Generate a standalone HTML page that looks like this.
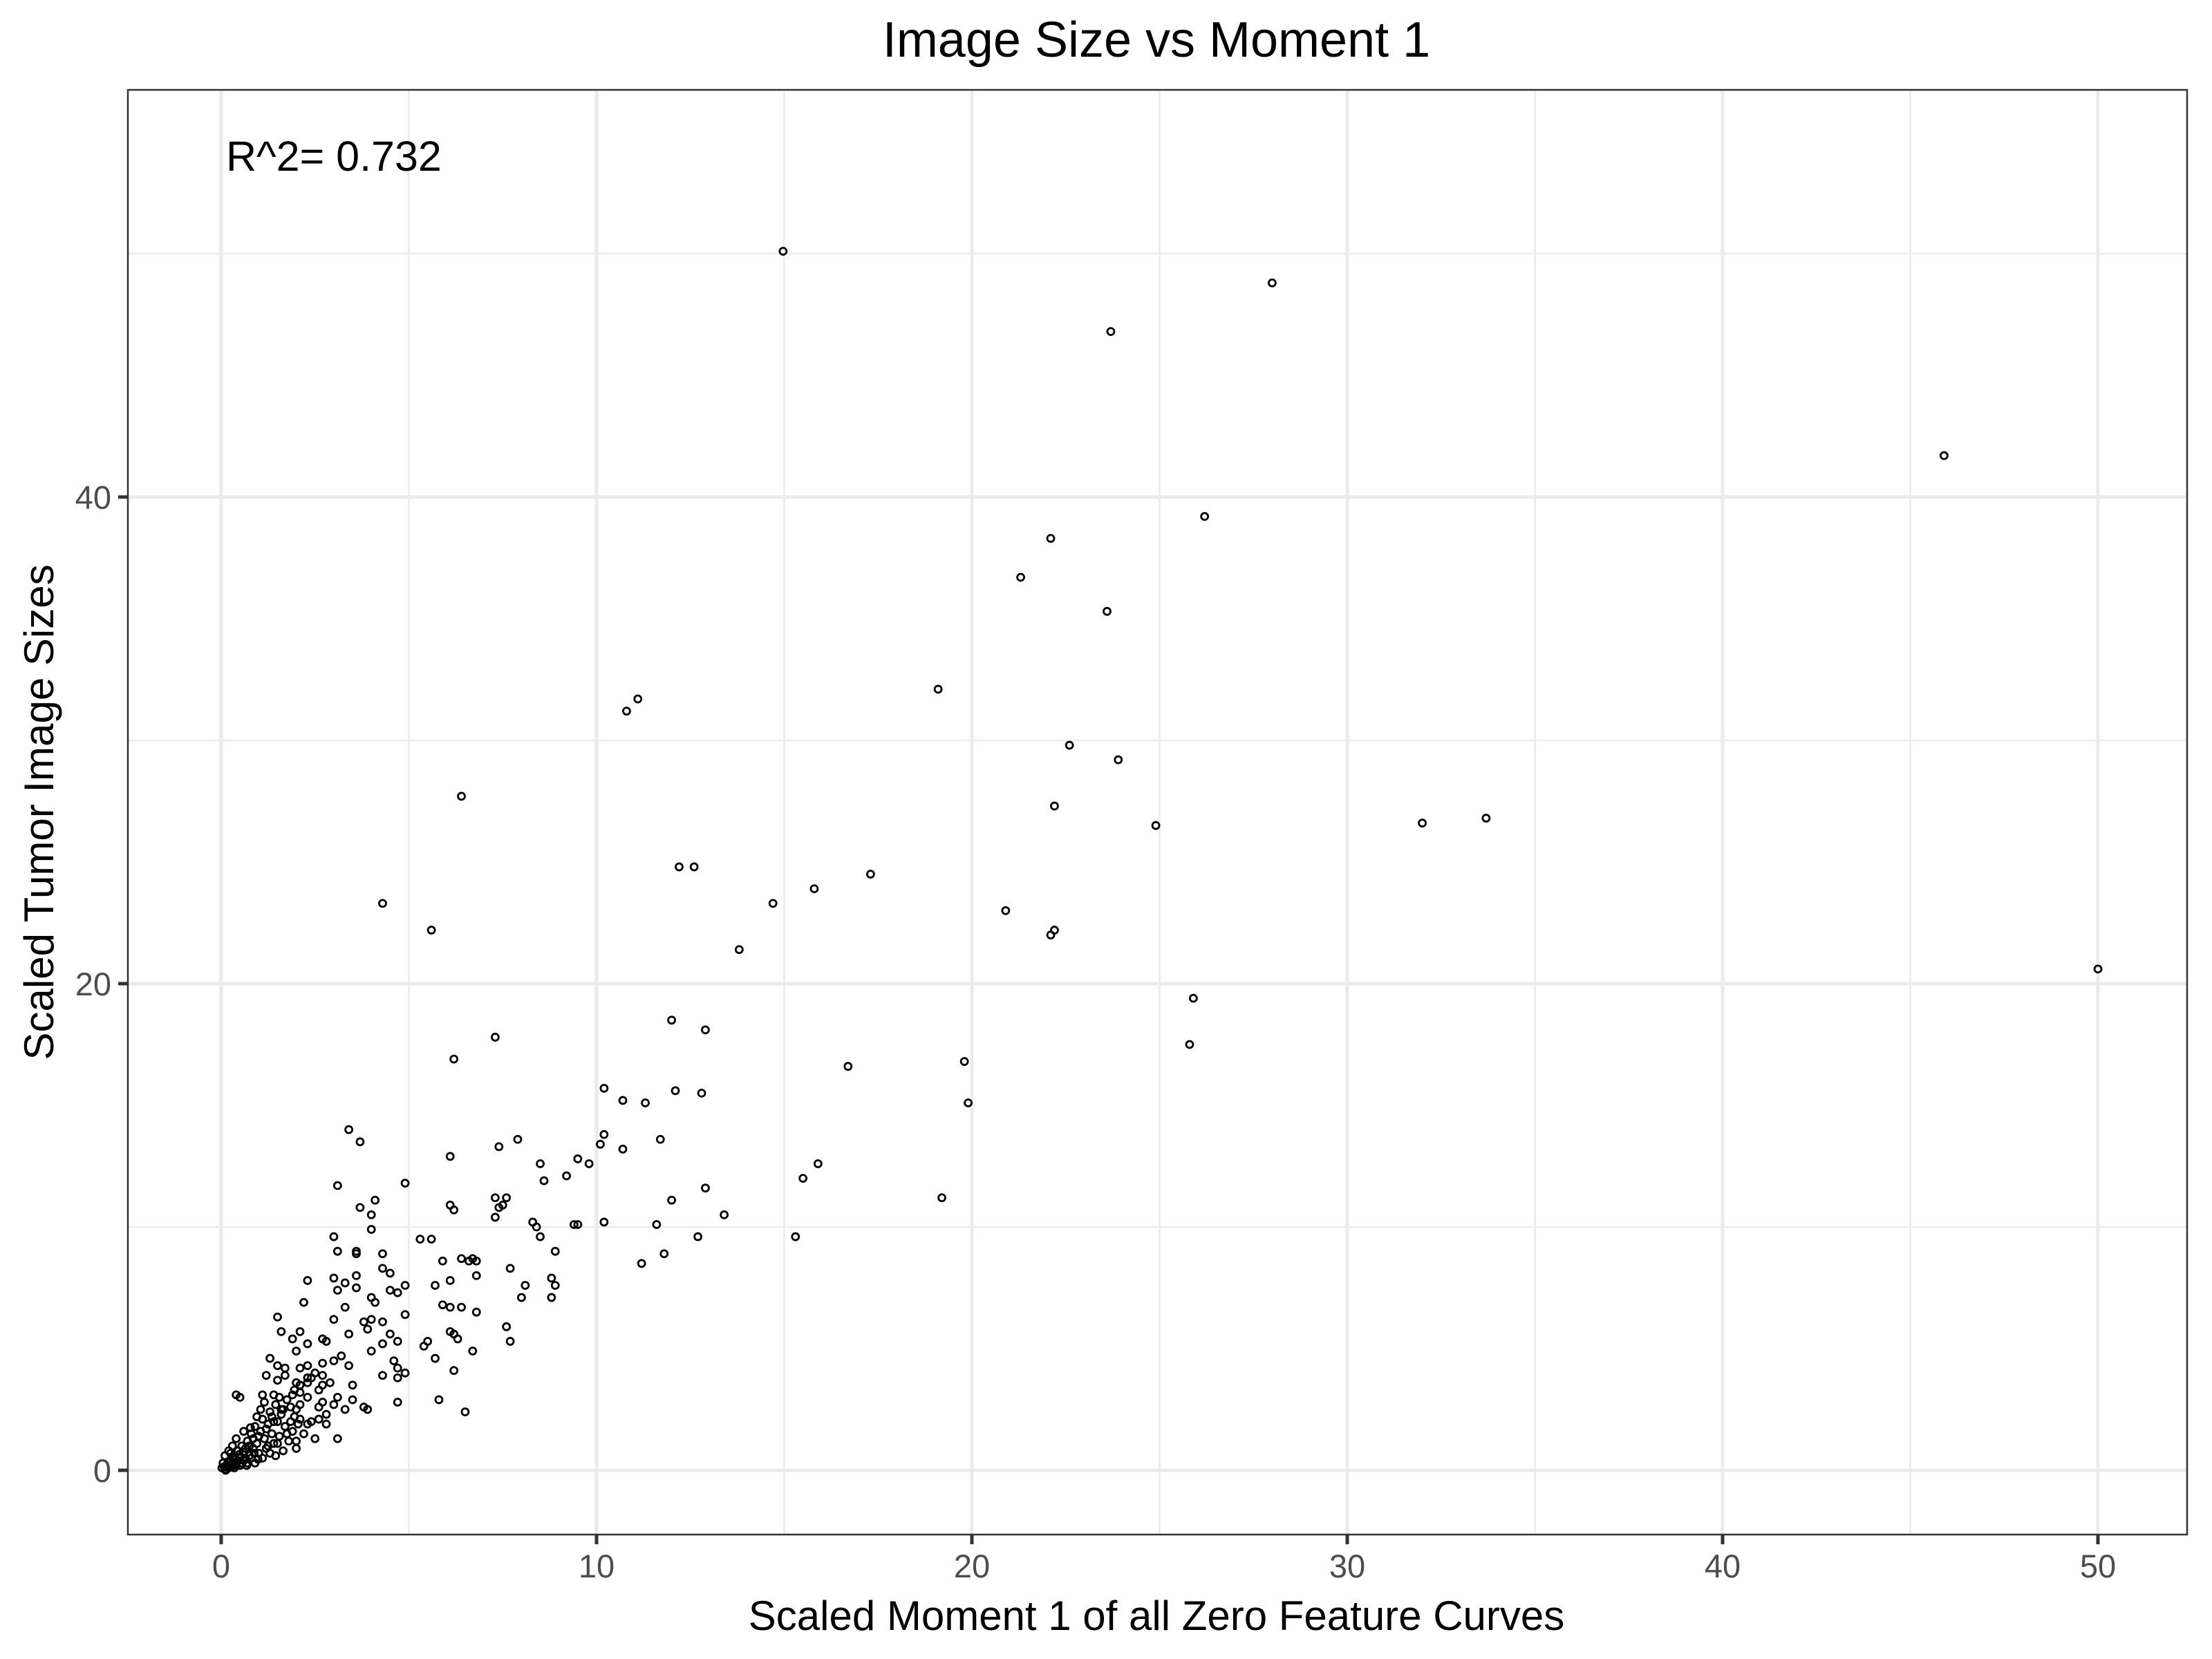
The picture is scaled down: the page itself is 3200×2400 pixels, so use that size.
<!DOCTYPE html>
<html><head><meta charset="utf-8"><style>
html,body{margin:0;padding:0;background:#fff}
svg{display:block;font-family:"Liberation Sans",Arial,sans-serif}
</style></head><body>
<svg id="chart" width="3200" height="2400" viewBox="0 0 3200 2400">
<text x="1673" y="82" font-size="72" text-anchor="middle" fill="#000">Image Size vs Moment 1</text>
<text x="1673" y="2358" font-size="60" text-anchor="middle" fill="#000">Scaled Moment 1 of all Zero Feature Curves</text>
<text transform="translate(77,1175) rotate(-90)" font-size="60" text-anchor="middle" fill="#000">Scaled Tumor Image Sizes</text>
<g id="grid"></g>
<g id="ticks"></g>
<g id="points"></g>
<rect x="185" y="130" width="2979" height="2090" fill="none" stroke="#333" stroke-width="2.5"/>
<text x="327" y="247" font-size="61" fill="#000">R^2= 0.732</text>
</svg>
<script>
const xTicks=[0,10,20,30,40,50];
const xMinor=[5,15,25,35,45];
const yTicks=[0,20,40];
const yMinor=[10,30,50];
const xVals=[14.97,28.0,23.7,45.9,26.2,22.1,21.3,23.6,11.1,10.8,19.1,22.6,23.9,6.4,22.2,24.9,32.0,33.7,12.2,12.6,17.3,15.8,14.7,4.3,20.9,5.6,22.2,22.1,13.8,50.0,25.9,12.0,12.9,7.3,25.8,6.2,19.8,16.7,10.2,12.1,12.8,10.7,11.3,19.9,3.4,3.7,7.9,10.2,11.7,7.4,10.1,10.7,6.1,9.5,9.8,8.5,15.9,15.5,9.2,8.6,3.1,4.9,12.9,19.2,12.0,4.1,7.3,7.6,7.5,7.4,3.7,6.1,6.2,4.0,13.4,7.3,9.4,9.5,10.2,11.6,8.3,8.4,4.0,3.0,8.5,5.3,5.6,12.7,15.3,3.1,3.6,3.6,4.3,8.9,11.8,5.9,6.4,6.7,6.6,6.8,11.2,7.7,4.5,4.3,3.6,6.1,3.0,3.3,3.6,8.8,8.9,4.9,8.1,2.3,6.8,4.5,4.7,5.7,3.1,8.0,8.8,4.0,4.1,2.2,5.9,6.1,6.4,6.8,3.3,1.5,3.0,4.0,4.9,3.8,3.9,4.3,7.6,1.6,2.1,1.9,3.4,4.5,4.7,6.1,6.3,6.2,2.8,2.7,7.7,5.5,5.4,4.3,4.0,2.3,2.0,6.7,3.2,5.7,4.6,1.3,2.7,3.0,2.1,2.3,3.4,4.7,4.9,6.2,1.5,1.7,4.3,1.2,1.7,2.7,2.9,2.4,2.3,3.5,4.7,1.5,2.0,0.4,0.5,1.1,1.4,1.9,2.1,3.1,3.5,4.7,5.8,2.7,3.0,2.6,3.8,3.9,6.5,3.3,1.6,2.0,2.8,2.6,2.8,2.1,2.3,3.1,1.5,2.0,
0.1,0.15,0.2,0.25,0.3,0.35,0.4,0.45,0.5,0.55,0.6,0.65,0.7,0.75,0.8,0.85,0.9,0.95,1.0,1.05,1.1,1.15,1.2,1.25,1.3,1.35,1.4,1.45,1.5,1.55,1.6,1.65,1.7,1.75,1.8,1.85,1.9,1.95,2.0,2.05,2.1,2.2,2.3,2.4,2.5,2.6,0.05,0.1,0.12,0.2,0.3,0.35,0.4,0.5,0.6,0.7,0.8,0.9,1.0,1.1,1.2,1.3,1.4,0.25,0.45,0.55,0.65,0.75,0.85,0.95,1.05,1.15,1.25,1.35,1.45,1.55,1.65,1.75,1.85,1.95,0.3,0.02,0.08,0.18,0.28,0.38,0.48,0.58,0.68,0.78,0.88,0.98,2.1,2.3,2.5,2.7];
const yVals=[50.1,48.8,46.8,41.7,39.2,38.3,36.7,35.3,31.7,31.2,32.1,29.8,29.2,27.7,27.3,26.5,26.6,26.8,24.8,24.8,24.5,23.9,23.3,23.3,23.0,22.2,22.2,22.0,21.4,20.6,19.4,18.5,18.1,17.8,17.5,16.9,16.8,16.6,15.7,15.6,15.5,15.2,15.1,15.1,14.0,13.5,13.6,13.8,13.6,13.3,13.4,13.2,12.9,12.8,12.6,12.6,12.6,12.0,12.1,11.9,11.7,11.8,11.6,11.2,11.1,11.1,11.2,11.2,10.9,10.8,10.8,10.9,10.7,10.5,10.5,10.4,10.1,10.1,10.2,10.1,10.2,10.0,9.9,9.6,9.6,9.5,9.5,9.6,9.6,9.0,9.0,8.9,8.9,9.0,8.9,8.6,8.7,8.7,8.6,8.6,8.5,8.3,8.1,8.3,8.0,7.8,7.9,7.7,7.5,7.9,7.6,7.6,7.6,7.8,8.0,7.4,7.3,7.6,7.4,7.1,7.1,7.1,6.9,6.9,6.8,6.7,6.7,6.5,6.7,6.3,6.2,6.2,6.4,6.1,5.8,6.1,5.9,5.7,5.7,5.4,5.6,5.6,5.3,5.7,5.4,5.6,5.3,5.4,5.3,5.3,5.1,5.2,4.9,5.2,4.9,4.9,4.7,4.6,4.5,4.6,4.4,4.5,4.2,4.3,4.3,4.2,4.0,4.1,4.3,4.2,3.9,3.9,3.9,3.9,3.6,3.8,3.6,3.5,3.8,3.7,3.6,3.1,3.0,3.1,3.1,3.1,3.2,3.0,2.9,2.8,2.9,2.8,2.7,2.6,2.6,2.5,2.4,2.5,2.5,2.5,2.3,2.1,1.9,2.1,1.9,1.3,1.1,1.2,
0.05,0.2,0.1,0.4,0.3,0.6,0.2,0.8,0.5,1.0,0.4,0.9,1.2,0.6,1.5,0.9,1.8,1.1,0.7,1.6,2.1,1.3,0.9,1.9,2.4,1.5,1.1,2.7,2.0,1.4,2.3,0.8,1.8,2.9,1.2,2.6,1.6,2.2,0.9,1.9,2.7,1.5,3.0,2.0,1.3,3.3,0.3,0.6,0.0,0.8,1.0,0.1,1.3,0.2,1.6,0.3,0.5,0.3,1.4,0.5,1.7,0.7,2.0,0.7,0.4,0.3,0.5,1.0,1.3,2.2,2.5,2.8,1.0,2.2,0.6,3.0,2.5,1.5,2.0,3.3,0.5,0.1,0.15,0.35,0.15,0.45,0.65,0.75,0.2,1.75,0.7,0.45,3.5,3.8,4.0,3.5];

const NS='http://www.w3.org/2000/svg';
const L=185,R=3164,T=130,B=2220;
function sx(v){return 320+v*54.3;}
function sy(v){return 2127-v*35.2;}
const grid=document.getElementById('grid'),ticks=document.getElementById('ticks'),pts=document.getElementById('points');
function line(g,x1,y1,x2,y2,c,w){const l=document.createElementNS(NS,'line');l.setAttribute('x1',x1);l.setAttribute('y1',y1);l.setAttribute('x2',x2);l.setAttribute('y2',y2);l.setAttribute('stroke',c);l.setAttribute('stroke-width',w);g.appendChild(l);return l;}
function txt(g,x,y,s,a){const t=document.createElementNS(NS,'text');t.setAttribute('x',x);t.setAttribute('y',y);t.setAttribute('font-size','47');t.setAttribute('fill','#4d4d4d');t.setAttribute('text-anchor',a);t.textContent=s;g.appendChild(t);return t;}
xMinor.forEach(v=>{const l=line(grid,sx(v),T,sx(v),B,'#ebebeb',2.5);

});
yMinor.forEach(v=>{const l=line(grid,L,sy(v),R,sy(v),'#ebebeb',2.5);

});
xTicks.forEach(v=>{const l=line(grid,sx(v),T,sx(v),B,'#ebebeb',5);


const tk=line(ticks,sx(v),B,sx(v),B+14,'#333',5);


const t=txt(ticks,sx(v),B+62,String(v),'middle');

});
yTicks.forEach(v=>{const l=line(grid,L,sy(v),R,sy(v),'#ebebeb',5);


const tk=line(ticks,L-14,sy(v),L,sy(v),'#333',5);


const t=txt(ticks,L-24,sy(v)+17,String(v),'end');

});
for(let i=0;i<xVals.length;i++){
const c=document.createElementNS(NS,'circle');
c.setAttribute('cx',sx(xVals[i]));c.setAttribute('cy',sy(yVals[i]));c.setAttribute('r',5);
c.setAttribute('fill','none');c.setAttribute('stroke','#000');c.setAttribute('stroke-width',2.8);


pts.appendChild(c);}
</script>
</body></html>
